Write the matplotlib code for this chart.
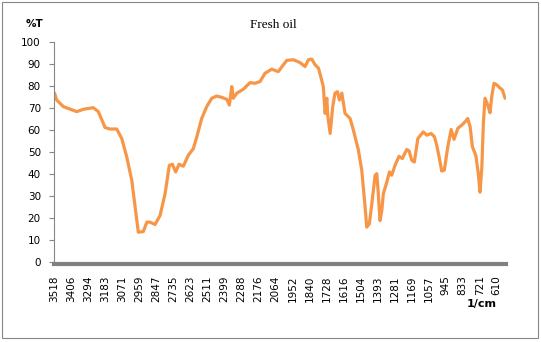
import numpy as np
import matplotlib.pyplot as plt
from matplotlib.patches import Rectangle

# FTIR spectrum of fresh oil, wavenumber (1/cm) vs transmittance (%T)
wavenumber = [3518, 3504, 3460, 3372, 3328, 3263, 3230, 3186, 3153, 3109,
              3076, 3043, 3010, 2988, 2967, 2934, 2911, 2890, 2857, 2824,
              2791, 2763, 2743, 2721, 2699, 2671, 2638, 2605, 2582, 2550,
              2517, 2484, 2451, 2418, 2385, 2368, 2352, 2342, 2319, 2276,
              2232, 2199, 2166, 2133, 2089, 2046, 2013, 1990, 1947, 1903,
              1870, 1848, 1826, 1804, 1782, 1767, 1750, 1738, 1727, 1721,
              1705, 1688, 1673, 1657, 1644, 1628, 1607, 1574, 1552, 1519,
              1497, 1475, 1464, 1447, 1431, 1409, 1398, 1388, 1377, 1365,
              1355, 1332, 1315, 1300, 1278, 1252, 1230, 1201, 1186, 1168,
              1151, 1128, 1092, 1069, 1041, 1019, 1004, 986, 971, 954,
              931, 909, 890, 865, 839, 817, 800, 784, 769, 747,
              730, 719, 707, 697, 686, 668, 653, 642, 627, 609,
              587, 572, 554]
transmittance = [76.6, 73.5, 70.5, 68.2, 69.3, 70.0, 68.2, 61.0, 60.3, 60.3,
                 56.0, 47.6, 37.0, 24.8, 13.4, 13.7, 18.0, 18.0, 16.9, 21.0,
                 30.9, 43.8, 44.3, 40.8, 44.3, 43.4, 48.4, 51.4, 56.8, 65.1,
                 70.5, 74.3, 75.3, 74.7, 73.8, 71.2, 79.6, 74.3, 76.6, 78.4,
                 81.4, 81.1, 81.9, 85.7, 87.5, 86.4, 89.5, 91.5, 91.8, 90.5,
                 88.7, 91.8, 92.1, 89.5, 88.0, 84.2, 79.6, 67.4, 74.3, 66.7,
                 58.3, 70.5, 76.6, 77.3, 73.5, 76.6, 67.4, 65.1, 59.8, 50.7,
                 41.6, 24.8, 15.7, 17.2, 26.3, 39.3, 40.0, 30.9, 18.7, 23.3,
                 30.9, 36.2, 40.8, 39.3, 43.8, 47.9, 46.9, 51.0, 50.4, 46.1,
                 45.3, 56.0, 59.0, 57.5, 58.3, 56.8, 53.0, 46.9, 41.2, 41.6,
                 52.2, 60.1, 55.6, 60.6, 62.1, 63.6, 65.1, 61.3, 52.2, 48.4,
                 40.0, 31.6, 43.0, 62.9, 74.3, 71.2, 67.7, 75.0, 81.1, 80.4,
                 78.9, 78.1, 74.3]
tick_labels = ['3518', '3406', '3294', '3183', '3071', '2959', '2847', '2735',
               '2623', '2511', '2399', '2288', '2176', '2064', '1952', '1840',
               '1728', '1616', '1504', '1393', '1281', '1169', '1057', '945',
               '833', '721', '610']

W, H = 541, 342
fig = plt.figure(figsize=(W / 100, H / 100), dpi=100)
fig.patch.set_facecolor('white')

ax = fig.add_axes([53.5 / W, (H - 261.7) / H, 452.2 / W, 220.0 / H])
ax.plot(wavenumber, transmittance, color='#F79646', lw=2.3,
        solid_joinstyle='round', solid_capstyle='round')

ax.set_xlim(3525, 550)
ax.set_ylim(0, 100)
ax.set_yticks(np.arange(0, 101, 10))
ax.set_xticks([float(t) for t in tick_labels], labels=tick_labels)

for side in ['top', 'right']:
    ax.spines[side].set_visible(False)
ax.spines['left'].set_color('#868686')
ax.spines['left'].set_linewidth(0.8)
ax.spines['bottom'].set_color('#808080')
ax.spines['bottom'].set_linewidth(3)
ax.spines['bottom'].set_position(('outward', 1.5))

ax.tick_params(axis='y', direction='out', length=3.6, width=0.8,
               color='#868686', pad=5.5, labelsize=7.5, labelcolor='black')
ax.tick_params(axis='x', length=0, pad=8.4, labelsize=7.5,
               labelcolor='black', labelrotation=90)

fig.text(273 / W, 1 - 25 / H, 'Fresh oil', family='Liberation Serif',
         size=9.5, ha='center', va='center')
fig.text(34 / W, 1 - 24 / H, '%T', weight='bold', size=7.5,
         ha='center', va='center')
fig.text(482 / W, 1 - 304 / H, '1/cm', weight='bold', size=8,
         ha='center', va='center')

# outer chart border
fig.patches.append(Rectangle((1.5 / W, (H - 338.3) / H), 536 / W, 336.8 / H,
                             transform=fig.transFigure, fill=False,
                             edgecolor='#868686', lw=0.8))

fig.savefig('out.png', dpi=100)
